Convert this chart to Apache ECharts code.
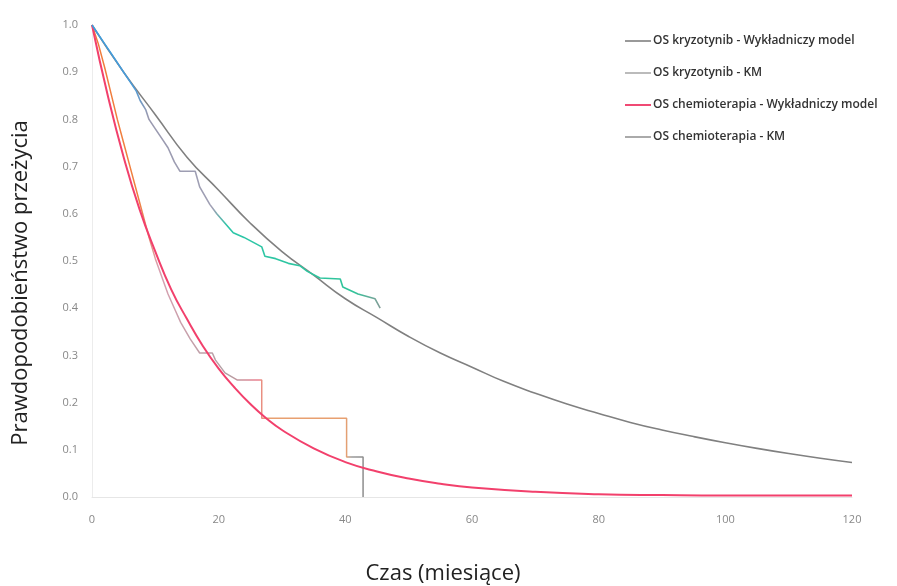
<!DOCTYPE html>
<html>
<head>
<meta charset="utf-8">
<script src="https://cdn.jsdelivr.net/npm/echarts@6/dist/echarts.min.js"></script>
<style>html,body{margin:0;padding:0;background:#fff}#c{width:897px;height:586px}</style>
</head>
<body>
<div id="c"></div>
<script>
// Tick labels
const xTicks = [0, 20, 40, 60, 80, 100, 120];
const yTicks = [0.0, 0.1, 0.2, 0.3, 0.4, 0.5, 0.6, 0.7, 0.8, 0.9, 1.0];

// Series names
const names = [
  'OS kryzotynib - Wykładniczy model',
  'OS kryzotynib - KM',
  'OS chemioterapia - Wykładniczy model',
  'OS chemioterapia - KM'
];

// [month, survival] readings
const crizModel = [[0,1.00],[5,0.90],[10,0.81],[15,0.72],[20,0.65],[25,0.58],[30,0.52],[35,0.47],[40,0.42],[45,0.38],[50,0.34],[55,0.305],[60,0.275],[65,0.245],[70,0.22],[75,0.197],[80,0.177],[85,0.158],[90,0.142],[95,0.128],[100,0.115],[105,0.103],[110,0.092],[115,0.082],[120,0.073]];

const crizKM = [[0,1],[1,0.98],[2,0.96],[3,0.94],[4,0.92],[5,0.90],[6,0.88],[7,0.86],[7.6,0.84],[8.5,0.82],[9,0.80],[10,0.78],[11.2,0.756],[12,0.74],[13,0.71],[13.9,0.69],[16.3,0.69],[17,0.657],[18.6,0.62],[19.7,0.60],[21,0.58],[22.3,0.56],[24,0.55],[25.4,0.54],[26.8,0.53],[27.3,0.51],[29,0.505],[31,0.495],[32.8,0.49],[34,0.478],[36,0.464],[39.2,0.462],[39.6,0.445],[42,0.43],[44.7,0.42],[45.5,0.40]];

const chemoModel = [[0,1.00],[2.5,0.85],[5,0.72],[7.5,0.61],[10,0.52],[12.5,0.44],[15,0.377],[17.5,0.32],[20,0.272],[22.5,0.232],[25,0.197],[27.5,0.167],[30,0.142],[35,0.103],[40,0.074],[45,0.054],[50,0.039],[55,0.028],[60,0.02],[70,0.011],[80,0.006],[90,0.004],[100,0.003],[110,0.003],[120,0.003]];

const chemoKM = [[0,1],[1,0.96],[2,0.91],[3,0.855],[4,0.80],[5,0.75],[6,0.70],[6.8,0.66],[8,0.60],[9,0.55],[10,0.505],[11.2,0.46],[12,0.43],[13,0.40],[14,0.37],[15.5,0.335],[17,0.305],[19,0.305],[19.5,0.29],[21,0.263],[22.9,0.248],[26.8,0.248],[26.8,0.167],[40.2,0.167],[40.2,0.085],[42.8,0.085],[42.8,0]];

const chart = echarts.init(document.getElementById('c'));
const G = echarts.graphic.LinearGradient;
chart.setOption({
  animation: false,
  backgroundColor: '#fff',
  grid: {left: 92, right: 45, top: 25, bottom: 89, outerBoundsMode: 'none', containLabel: false},
  legend: {
    orient: 'vertical', left: 620, top: 30, itemGap: 20,
    itemWidth: 26, itemHeight: 2, icon: 'rect',
    textStyle: {fontSize: 12, fontWeight: 600, color: '#333', fontFamily: 'Open Sans', padding: [0, 0, 0, -3]},
    data: [
      {name: names[0], itemStyle: {color: '#999'}},
      {name: names[1], itemStyle: {color: '#bbb'}},
      {name: names[2], itemStyle: {color: '#f04a74'}},
      {name: names[3], itemStyle: {color: '#aaa'}}
    ]
  },
  xAxis: {
    type: 'value', min: 0, max: 120, interval: 20,
    name: 'Czas (miesiące)', nameLocation: 'middle', nameGap: 66,
    nameTextStyle: {fontSize: 22, color: '#222', fontFamily: 'Open Sans', padding: [0, 58, 0, 0]},
    axisLine: {lineStyle: {color: '#e6e6e6'}},
    axisTick: {show: false}, splitLine: {show: false},
    axisLabel: {color: '#888', fontSize: 11, margin: 17, fontFamily: 'Open Sans',
      formatter: v => xTicks.includes(v) ? String(v) : ''}
  },
  yAxis: {
    type: 'value', min: 0, max: 1, interval: 0.1,
    name: 'Prawdopodobieństwo przeżycia', nameLocation: 'middle', nameGap: 60,
    nameTextStyle: {fontSize: 22, color: '#222', fontFamily: 'Open Sans', padding: [0, 44, 0, 0]},
    axisLine: {show: true, lineStyle: {color: '#ececec'}},
    axisTick: {show: false}, splitLine: {show: false},
    axisLabel: {color: '#888', fontSize: 11, margin: 14, fontFamily: 'Open Sans',
      formatter: v => yTicks.find(t => Math.abs(t - v) < 1e-6).toFixed(1)}
  },
  series: [
    {name: names[0], type: 'line', data: crizModel, smooth: true, symbol: 'none',
      lineStyle: {color: '#808080', width: 1.6}, z: 3},
    {name: names[1], type: 'line', data: crizKM, symbol: 'none',
      lineStyle: {width: 1.6, color: new G(0, 0, 1, 0, [
        {offset: 0, color: '#3a9ee0'}, {offset: 0.15, color: '#4a9ad8'},
        {offset: 0.2, color: '#9a9ab0'}, {offset: 0.42, color: '#a0a0b4'},
        {offset: 0.47, color: '#2cc6a8'}, {offset: 0.9, color: '#30c49a'},
        {offset: 1, color: '#8a9a98'}])}, z: 4},
    {name: names[2], type: 'line', data: chemoModel, smooth: true, symbol: 'none',
      lineStyle: {color: '#f2406c', width: 2}, z: 3},
    {name: names[3], type: 'line', data: chemoKM, symbol: 'none',
      lineStyle: {width: 1.5, color: new G(0, 0, 1, 0, [
        {offset: 0, color: '#f07a3a'}, {offset: 0.18, color: '#f08040'},
        {offset: 0.25, color: '#d8a0b0'}, {offset: 0.5, color: '#b0a0a4'},
        {offset: 0.61, color: '#ea8090'}, {offset: 0.64, color: '#e8a070'},
        {offset: 0.93, color: '#e8a070'}, {offset: 0.95, color: '#9a9a9a'},
        {offset: 1, color: '#8a8a8a'}])}, z: 2}
  ]
});
</script>
</body>
</html>
